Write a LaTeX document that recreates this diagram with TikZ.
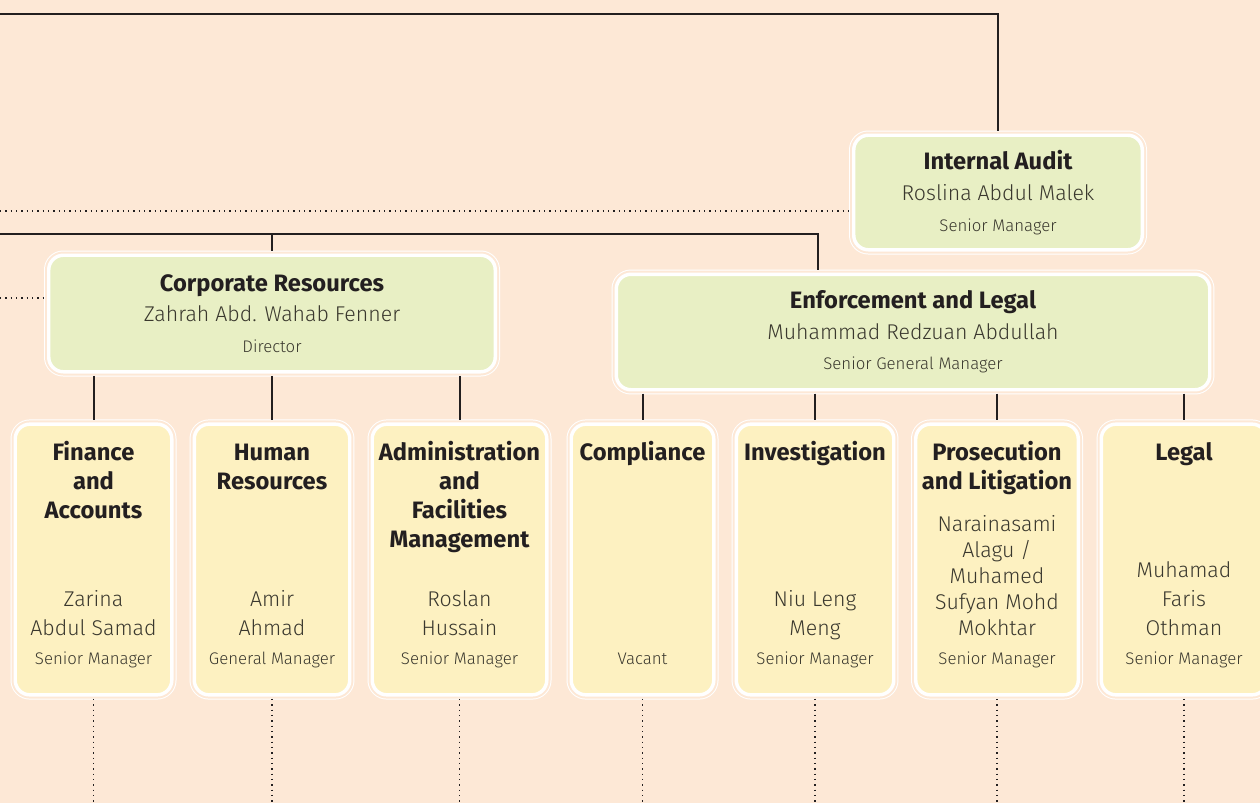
\documentclass[tikz,border=0pt]{standalone}
\usepackage{xcolor}
\usepackage{tikz}
\usepackage{fontspec}
\setmainfont{Fira Sans}
\newfontfamily\namefont{Fira Sans Light}

\definecolor{peach}{HTML}{FDE8D6}
\definecolor{leaf}{HTML}{E8EFC4}
\definecolor{cream}{HTML}{FDF1C1}
\definecolor{ink}{HTML}{231F20}
\definecolor{inkgrey}{HTML}{3A382E}

\newcommand{\titlesize}{\fontsize{17.8pt}{21.75pt}\selectfont}
\newcommand{\rolesize}{\fontsize{12.6pt}{21.75pt}\selectfont}
\newcommand{\who}{\namefont\color{inkgrey}}
% department card: [name spacing]{width}{title}{names}{role}
\newcommand{\dept}[5][21.75pt]{%
  \parbox[c][200pt][t]{#2}{\centering
    \vspace*{10.3pt}%
    {\titlesize\bfseries\color{ink}\strut #3\par}%
    \vfill
    {\who\fontsize{16pt}{#1}\selectfont #4\par}%
    {\who\rolesize #5\strut\par}%
    \vspace*{14.5pt}}}

\begin{document}
\begin{tikzpicture}[x=0.75pt, y=-0.75pt]
        \tikzstyle{unitbox} = [rectangle, rounded corners=11pt, draw=white, line width=2.6pt, outer sep=3pt, inner sep=0pt, text=ink, preaction={draw=white, line width=7.1pt}, preaction={draw=peach, line width=5.6pt}]
        \tikzstyle{headbox} = [unitbox, fill=leaf, align=center, font=\fontsize{16pt}{23pt}\selectfont]
        \tikzstyle{deptbox} = [unitbox, fill=cream, minimum height=203pt]
        \tikzstyle{solidlink} = [draw=ink, line width=1.5pt]
        \tikzstyle{dotlink} = [draw=ink, line width=1pt, dash pattern=on 1pt off 3pt]

        \fill[peach] (0,0) rectangle (1260,803);
        \useasboundingbox (0,0) rectangle (1260,803);

        \node(Internal Audit)[headbox, minimum width=216.4pt, minimum height=85.9pt] at (998,192.5) {{\bfseries\titlesize Internal Audit}\\{\who Roslina Abdul Malek}\\{\who\rolesize Senior Manager}};
        \node(Corporate Resources)[headbox, minimum width=334.9pt, minimum height=87.4pt] at (272,313.5) {{\bfseries\titlesize Corporate Resources}\\{\who Zahrah Abd. Wahab Fenner}\\{\who\rolesize Director}};
        \node(Enforcement)[headbox, minimum width=445.1pt, minimum height=86.6pt] at (913,332) {{\bfseries\titlesize Enforcement and Legal}\\{\who Muhammad Redzuan Abdullah}\\{\who\rolesize Senior General Manager}};

        \node(Finance)[deptbox, minimum width=117.4pt] at (93.5,559.5) {\dept{114.75pt}{Finance\\and\\Accounts}{Zarina\\Abdul Samad}{Senior Manager}};
        \node(Human Resources)[deptbox, minimum width=116.6pt] at (272,559.5) {\dept{114pt}{Human\\Resources}{Amir\\Ahmad}{General Manager}};
        \node(Administration)[deptbox, minimum width=130.9pt] at (459.5,559.5) {\dept{128.25pt}{Administration\\and\\Facilities\\Management}{Roslan\\Hussain}{Senior Manager}};
        \node(Compliance)[deptbox, minimum width=106.9pt] at (642.5,559.5) {\dept{104.25pt}{Compliance}{}{Vacant}};
        \node(Investigation)[deptbox, minimum width=118.1pt] at (815,559.5) {\dept{115.5pt}{Investigation}{Niu Leng\\Meng}{Senior Manager}};
        \node(Prosecution)[deptbox, minimum width=121.9pt] at (997,559.5) {\dept[19.6pt]{119.25pt}{Prosecution\\and Litigation}{Narainasami\\Alagu /\\Muhamed\\Sufyan Mohd\\Mokhtar}{Senior Manager}};
        \node(Legal)[deptbox, minimum width=124.1pt] at (1184,559.5) {\dept{121.5pt}{Legal}{Muhamad\\Faris\\Othman}{Senior Manager}};

        \coordinate(top rule) at (0,14);
        \coordinate(audit dots) at (0,211);
        \coordinate(main rule) at (0,234);
        \coordinate(rule drop) at (818,234);
        \coordinate(corp dots) at (0,298);
        \coordinate(page foot) at (0,810);

        \draw[solidlink] (top rule) -| (Internal Audit.north);
        \draw[dotlink] (audit dots) -- (audit dots -| Internal Audit.west);
        \draw[solidlink] (main rule) -- (rule drop) -- (rule drop |- Enforcement.north);
        \draw[solidlink] (main rule -| Corporate Resources.north) -- (Corporate Resources.north);
        \draw[dotlink] (corp dots) -- (corp dots -| Corporate Resources.west);

        \draw[solidlink] (Finance.north |- Corporate Resources.south) -- (Finance.north);
        \draw[solidlink] (Human Resources.north |- Corporate Resources.south) -- (Human Resources.north);
        \draw[solidlink] (Administration.north |- Corporate Resources.south) -- (Administration.north);
        \draw[solidlink] (Compliance.north |- Enforcement.south) -- (Compliance.north);
        \draw[solidlink] (Investigation.north |- Enforcement.south) -- (Investigation.north);
        \draw[solidlink] (Prosecution.north |- Enforcement.south) -- (Prosecution.north);
        \draw[solidlink] (Legal.north |- Enforcement.south) -- (Legal.north);

        \draw[dotlink] (Finance.south) -- (Finance.south |- page foot);
        \draw[dotlink] (Human Resources.south) -- (Human Resources.south |- page foot);
        \draw[dotlink] (Administration.south) -- (Administration.south |- page foot);
        \draw[dotlink] (Compliance.south) -- (Compliance.south |- page foot);
        \draw[dotlink] (Investigation.south) -- (Investigation.south |- page foot);
        \draw[dotlink] (Prosecution.south) -- (Prosecution.south |- page foot);
        \draw[dotlink] (Legal.south) -- (Legal.south |- page foot);

\end{tikzpicture}
\end{document}
